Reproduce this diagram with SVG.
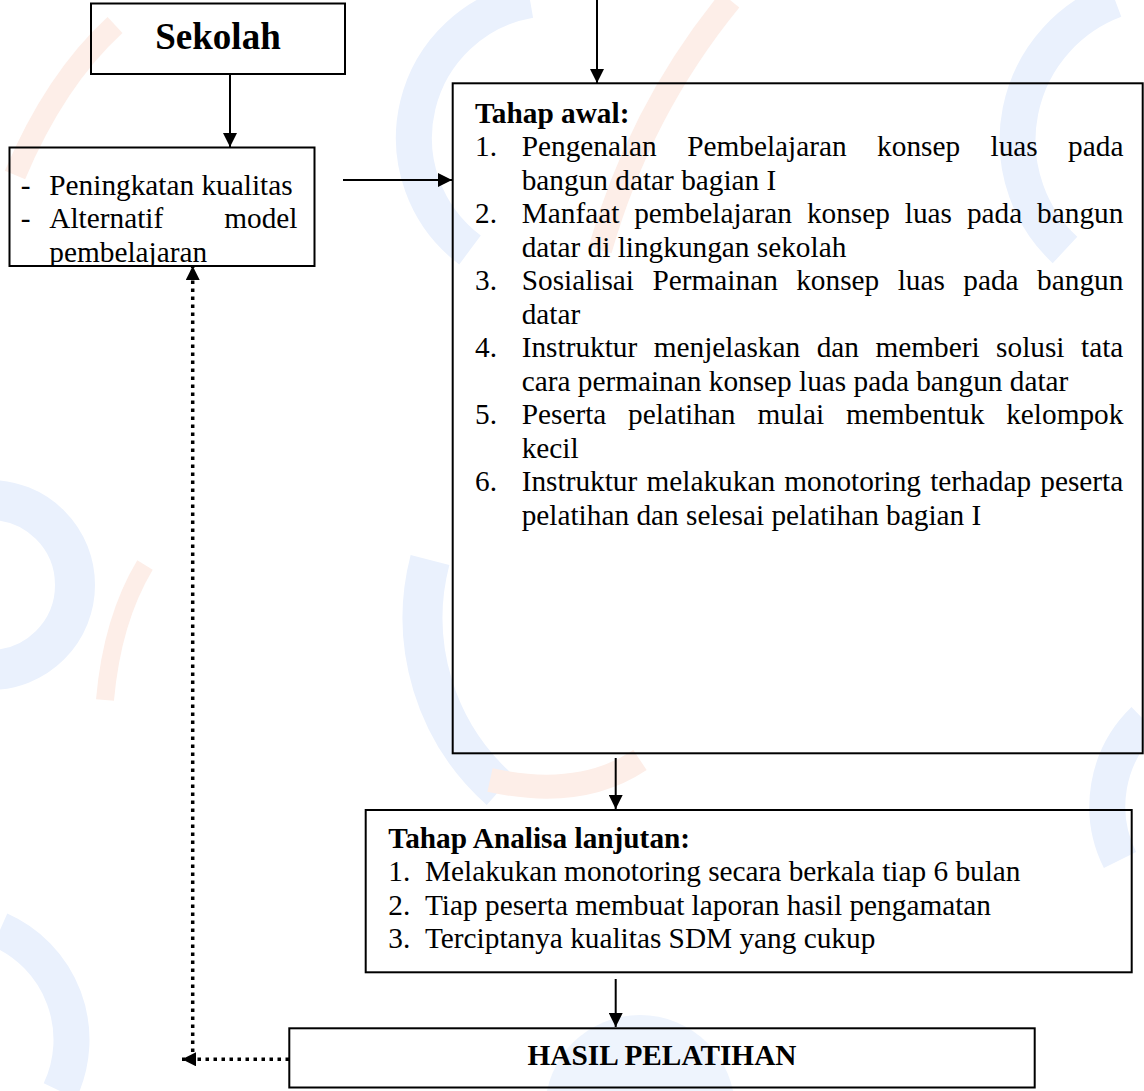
<svg xmlns="http://www.w3.org/2000/svg" width="1144" height="1091" viewBox="0 0 1144 1091">
<style>
.t{font-family:"Liberation Serif","Times New Roman",serif;font-size:29.3px;fill:#000}
.b{font-weight:bold}
.box{fill:none;stroke:#000;stroke-width:2}
.conn{fill:none;stroke:#000;stroke-width:2}
.dot{fill:none;stroke:#000;stroke-width:3.5;stroke-dasharray:3.5 4.5}
.wb{fill:none;stroke:#eaf1fd}
.wo{fill:none;stroke:#fdeee8}
</style>
<defs>
<marker id="ah" viewBox="0 0 10 10" refX="10" refY="5" markerUnits="userSpaceOnUse" markerWidth="15" markerHeight="14" orient="auto">
<path d="M0,0 L10,5 L0,10 z" fill="#000"/>
</marker>
<clipPath id="clipB"><rect x="10" y="148" width="303" height="117"/></clipPath>
</defs>
<rect width="1144" height="1091" fill="#fff"/>
<g id="watermark">
<path class="wb" stroke-width="36" d="M470 250 A 140 140 0 0 1 530 0"/>
<path class="wo" stroke-width="24" d="M600 250 Q 640 110 730 0"/>
<path class="wb" stroke-width="36" d="M1065 250 A 150 150 0 0 1 1115 0"/>
<path class="wo" stroke-width="22" d="M15 175 Q 55 80 115 25"/>
<circle class="wb" stroke-width="40" cx="-10" cy="585" r="85"/>
<path class="wo" stroke-width="18" d="M105 700 Q 112 620 145 565"/>
<path class="wb" stroke-width="40" d="M430 560 A 230 230 0 0 0 500 790"/>
<path class="wo" stroke-width="24" d="M490 780 Q 580 800 640 760"/>
<path class="wb" stroke-width="36" d="M1144 720 A 120 120 0 0 0 1120 860"/>
<path class="wb" stroke-width="36" d="M0 930 A 120 120 0 0 1 60 1091"/>
<circle cx="640" cy="1110" r="95" fill="#eef4fd"/>
</g>
<g id="connectors">
<line class="conn" x1="230" y1="74" x2="230" y2="147" marker-end="url(#ah)"/>
<line class="conn" x1="343" y1="180" x2="452" y2="180" marker-end="url(#ah)"/>
<line class="conn" x1="597" y1="0" x2="597" y2="83" marker-end="url(#ah)"/>
<line class="conn" x1="615.7" y1="758" x2="615.7" y2="809" marker-end="url(#ah)"/>
<line class="conn" x1="615.7" y1="979" x2="615.7" y2="1027" marker-end="url(#ah)"/>
<line class="dot" x1="192.7" y1="1052" x2="192.7" y2="266" marker-end="url(#ah)"/>
<line class="dot" x1="289" y1="1059.3" x2="182" y2="1059.3" marker-end="url(#ah)"/>
</g>
<g id="sekolah">
<rect class="box" x="91" y="3.5" width="254" height="70.5"/>
<text class="t b" x="218" y="48.5" text-anchor="middle" style="font-size:37px">Sekolah</text>
</g>
<g id="tujuan">
<rect class="box" x="9.5" y="147.5" width="305" height="118.5"/>
<g clip-path="url(#clipB)">
<text class="t" y="194.5"><tspan x="20.7">-</tspan><tspan x="49.3">Peningkatan kualitas</tspan></text>
<text class="t" y="228"><tspan x="20.7">-</tspan><tspan x="49.3">Alternatif</tspan></text>
<text class="t" x="297.5" y="228" text-anchor="end">model</text>
<text class="t" x="49.3" y="261.5">pembelajaran</text>
</g>
</g>
<g id="tahap-awal">
<rect class="box" x="452.7" y="83.3" width="690" height="670"/>
<text class="t b" x="475" y="122.5">Tahap awal:</text>
<text class="t" y="156"><tspan x="475">1.</tspan><tspan x="521.7">Pengenalan</tspan><tspan x="687.2">Pembelajaran</tspan><tspan x="877.1">konsep</tspan><tspan x="990.5">luas</tspan><tspan x="1068.1">pada</tspan></text>
<text class="t" x="521.7" y="189.5">bangun datar bagian I</text>
<text class="t" y="223"><tspan x="475">2.</tspan><tspan x="521.7">Manfaat</tspan><tspan x="634.2">pembelajaran</tspan><tspan x="806.9">konsep</tspan><tspan x="904.8">luas</tspan><tspan x="966.9">pada</tspan><tspan x="1037.1">bangun</tspan></text>
<text class="t" x="521.7" y="256.5">datar di lingkungan sekolah</text>
<text class="t" y="290"><tspan x="475">3.</tspan><tspan x="521.7">Sosialisai</tspan><tspan x="652.5">Permainan</tspan><tspan x="796.2">konsep</tspan><tspan x="897.7">luas</tspan><tspan x="963.3">pada</tspan><tspan x="1037.1">bangun</tspan></text>
<text class="t" x="521.7" y="323.5">datar</text>
<text class="t" y="357"><tspan x="475">4.</tspan><tspan x="521.7">Instruktur</tspan><tspan x="653.7">menjelaskan</tspan><tspan x="816.7">dan</tspan><tspan x="875.5">memberi</tspan><tspan x="996.1">solusi</tspan><tspan x="1081">tata</tspan></text>
<text class="t" x="521.7" y="390.5">cara permainan konsep luas pada bangun datar</text>
<text class="t" y="424"><tspan x="475">5.</tspan><tspan x="521.7">Peserta</tspan><tspan x="628.1">pelatihan</tspan><tspan x="757.4">mulai</tspan><tspan x="846">membentuk</tspan><tspan x="1006.2">kelompok</tspan></text>
<text class="t" x="521.7" y="457.5">kecil</text>
<text class="t" y="491"><tspan x="475">6.</tspan><tspan x="521.7">Instruktur</tspan><tspan x="646.5">melakukan</tspan><tspan x="784.3">monotoring</tspan><tspan x="930.2">terhadap</tspan><tspan x="1040.3">peserta</tspan></text>
<text class="t" x="521.7" y="524.5">pelatihan dan selesai pelatihan bagian I</text>
</g>
<g id="tahap-analisa">
<rect class="box" x="365.7" y="810" width="766" height="162.3"/>
<text class="t b" x="388.3" y="847.5">Tahap Analisa lanjutan:</text>
<text class="t" y="881"><tspan x="388.3">1.</tspan><tspan x="425">Melakukan monotoring secara berkala tiap 6 bulan</tspan></text>
<text class="t" y="914.5"><tspan x="388.3">2.</tspan><tspan x="425">Tiap peserta membuat laporan hasil pengamatan</tspan></text>
<text class="t" y="948"><tspan x="388.3">3.</tspan><tspan x="425">Terciptanya kualitas SDM yang cukup</tspan></text>
</g>
<g id="hasil">
<rect class="box" x="289.3" y="1028.3" width="745.4" height="59.2"/>
<text class="t b" x="662" y="1065" text-anchor="middle">HASIL PELATIHAN</text>
</g>
</svg>
